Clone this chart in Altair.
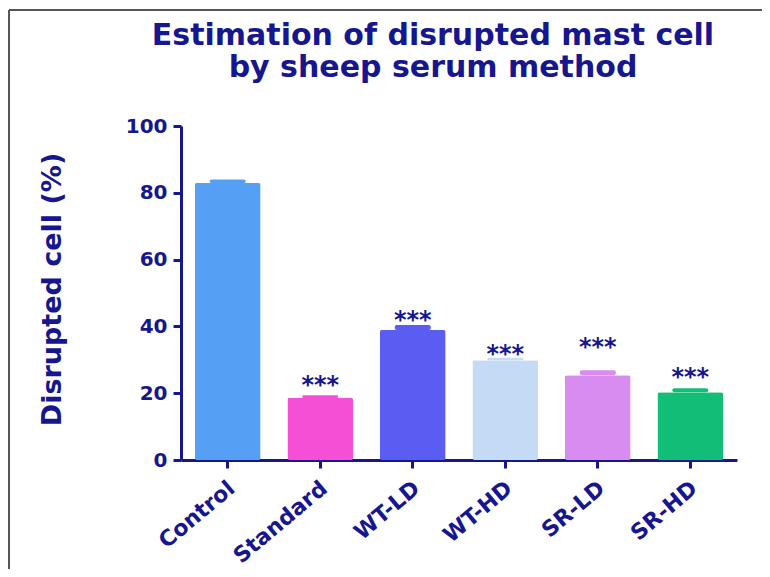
import altair as alt
import pandas as pd

groups = ["Control", "Standard", "WT-LD", "WT-HD", "SR-LD", "SR-HD"]
means = [82.9, 18.6, 38.9, 29.9, 25.4, 20.3]
uppers = [84.0, 19.4, 40.4, 30.6, 26.9, 21.5]
sig = ["", "***", "***", "***", "***", "***"]
sig_pos = [0, 24.6, 44.0, 33.8, 35.9, 27.0]
colors = ["#55a0f5", "#f54fd6", "#5a5cf2", "#c5daf4", "#d98cef", "#12be77"]

NAVY = "#16168e"
FONT = "DejaVu Sans"

df = pd.DataFrame({"group": groups, "mean": means, "upper": uppers,
                   "sig": sig, "sig_pos": sig_pos})

x = alt.X("group:N", sort=groups,
          scale=alt.Scale(paddingInner=0.29, paddingOuter=0.15),
          axis=alt.Axis(title=None, labelAngle=320, labelAlign="right",
                        labelBaseline="middle", labelFontSize=22,
                        labelPadding=17, labelOffset=4))
color = alt.Color("group:N", sort=groups,
                  scale=alt.Scale(domain=groups, range=colors), legend=None)

yscale = alt.Scale(domain=[0, 100], nice=False)

bars = alt.Chart(df).mark_bar(cornerRadius=2).encode(
    x=x,
    y=alt.Y("mean:Q", scale=yscale,
            axis=alt.Axis(title="Disrupted cell (%)", values=[0, 20, 40, 60, 80, 100],
                          labelFontSize=20, labelPadding=6, titleFontSize=27,
                          titleX=-121, titleY=163, titleBaseline="alphabetic",
                          titleAngle=270)),
    color=color,
)

caps = alt.Chart(df).mark_bar(width=36, cornerRadius=2).encode(
    x=alt.X("group:N", sort=groups),
    y=alt.Y("mean:Q", scale=yscale),
    y2="upper:Q",
    color=color,
)

stars = alt.Chart(df).mark_text(font=FONT, fontWeight="bold", fontSize=24,
                                color=NAVY, baseline="alphabetic", dy=15).encode(
    x=alt.X("group:N", sort=groups),
    y=alt.Y("sig_pos:Q", scale=yscale),
    text="sig:N",
)

frame_top = alt.Chart(df).mark_rule(color="#555555", strokeWidth=2).encode(
    x=alt.value(-172), x2=alt.value(581), y=alt.value(-116))
frame_left = alt.Chart(df).mark_rule(color="#555555", strokeWidth=2).encode(
    x=alt.value(-172), y=alt.value(-116), y2=alt.value(443))

chart = alt.layer(frame_top, frame_left, bars, caps, stars).properties(
    width=556, height=334,
    autosize=alt.AutoSizeParams(type="none"),
    padding={"left": 173, "top": 118, "right": 25, "bottom": 109},
    title=alt.TitleParams(
        ["Estimation of disrupted mast cell", "by sheep serum method"],
        font=FONT, fontSize=30, fontWeight="bold", color=NAVY,
        anchor="middle", dx=-26, offset=0, dy=98, baseline="alphabetic",
        lineHeight=32),
).configure_view(stroke=None).configure_axis(
    domainColor=NAVY, domainWidth=3, tickColor=NAVY, tickWidth=3, tickSize=8,
    labelColor=NAVY, titleColor=NAVY, labelFont=FONT, titleFont=FONT,
    labelFontWeight="bold", titleFontWeight="bold", grid=False,
)

chart.save("out.html", embed_options={"renderer": "svg", "actions": False})
